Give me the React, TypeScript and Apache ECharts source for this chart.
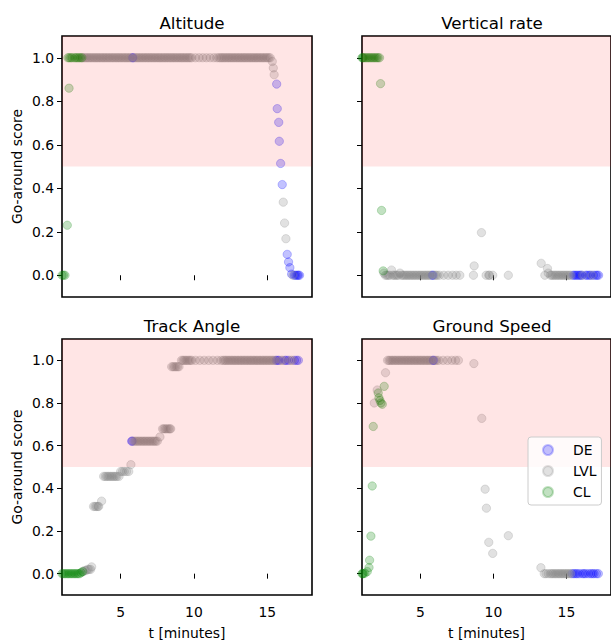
import React, { useEffect, useRef } from "react";
import * as echarts from "echarts";

// ---------- DATA (t [minutes], go-around score) ----------
const TITLES = ["Altitude", "Vertical rate", "Track Angle", "Ground Speed"];
const CLASSES = ["DE", "LVL", "CL"];
const X_TICKS = [5, 10, 15];
const Y_TICKS = [0, 0.2, 0.4, 0.6, 0.8, 1.0];

const ALT_DE = [
  [5.8, 1.0], [5.85, 1.0],
  [15.64, 0.879], [15.68, 0.766], [15.78, 0.703], [15.82, 0.616], [15.91, 0.514], [16.02, 0.417],
  [16.36, 0.096], [16.45, 0.061], [16.54, 0.035], [16.66, 0.005], [16.85, 0.0], [16.95, 0.0],
  [17.05, 0.0], [17.12, 0.0], [17.2, 0.0],
];
const ALT_LVL = [
  [2.4, 1.0], [2.5, 1.0], [2.6, 1.0], [2.7, 1.0], [2.8, 1.0], [2.9, 1.0], [3.0, 1.0], [3.1, 1.0],
  [3.2, 1.0], [3.3, 1.0], [3.4, 1.0], [3.5, 1.0], [3.6, 1.0], [3.7, 1.0], [3.8, 1.0], [3.9, 1.0],
  [4.0, 1.0], [4.1, 1.0], [4.2, 1.0], [4.3, 1.0], [4.4, 1.0], [4.5, 1.0], [4.6, 1.0], [4.7, 1.0],
  [4.8, 1.0], [4.9, 1.0], [5.0, 1.0], [5.1, 1.0], [5.2, 1.0], [5.3, 1.0], [5.4, 1.0], [5.5, 1.0],
  [5.6, 1.0], [5.7, 1.0], [5.95, 1.0], [6.05, 1.0], [6.15, 1.0], [6.25, 1.0], [6.35, 1.0],
  [6.45, 1.0], [6.55, 1.0], [6.65, 1.0], [6.75, 1.0], [6.85, 1.0], [6.95, 1.0], [7.05, 1.0],
  [7.15, 1.0], [7.25, 1.0], [7.35, 1.0], [7.45, 1.0], [7.55, 1.0], [7.65, 1.0], [7.75, 1.0],
  [7.85, 1.0], [7.95, 1.0], [8.05, 1.0], [8.15, 1.0], [8.25, 1.0], [8.35, 1.0], [8.45, 1.0],
  [8.55, 1.0], [8.65, 1.0], [8.75, 1.0], [8.85, 1.0], [8.95, 1.0], [9.05, 1.0], [9.15, 1.0],
  [9.25, 1.0], [9.35, 1.0], [9.45, 1.0], [9.55, 1.0], [9.65, 1.0], [9.75, 1.0], [9.85, 1.0],
  [10.1, 1.0], [10.35, 1.0], [10.6, 1.0], [10.85, 1.0], [11.1, 1.0], [11.35, 1.0], [11.55, 1.0],
  [11.7, 1.0], [11.8, 1.0], [11.9, 1.0], [12.0, 1.0], [12.1, 1.0], [12.2, 1.0], [12.3, 1.0],
  [12.4, 1.0], [12.5, 1.0], [12.6, 1.0], [12.7, 1.0], [12.8, 1.0], [12.9, 1.0], [13.0, 1.0],
  [13.1, 1.0], [13.2, 1.0], [13.3, 1.0], [13.4, 1.0], [13.5, 1.0], [13.6, 1.0], [13.7, 1.0],
  [13.8, 1.0], [13.9, 1.0], [14.0, 1.0], [14.1, 1.0], [14.2, 1.0], [14.3, 1.0], [14.4, 1.0],
  [14.5, 1.0], [14.6, 1.0], [14.7, 1.0], [14.8, 1.0], [14.9, 1.0], [15.0, 1.0], [15.1, 1.0],
  [15.2, 1.0],
  [15.34, 0.983], [15.41, 0.953], [15.47, 0.922],
  [16.09, 0.336], [16.18, 0.24], [16.27, 0.168], [16.75, 0.0],
];
const ALT_CL = [
  [1.0, 0.0], [1.1, 0.0], [1.2, 0.0], [1.36, 0.23], [1.48, 0.86],
  [1.4, 1.0], [1.5, 1.0], [1.6, 1.0], [1.7, 1.0], [1.85, 1.0], [1.95, 1.0], [2.05, 1.0],
  [2.15, 1.0], [2.25, 1.0], [2.35, 1.0],
];

const VR_DE = [
  [5.8, 0.0], [5.86, 0.0],
  [15.45, 0.0], [15.55, 0.0], [15.65, 0.0], [15.75, 0.0], [15.86, 0.0], [15.95, 0.0], [16.05, 0.0],
  [16.32, 0.0], [16.42, 0.0], [16.55, 0.0], [16.65, 0.0], [16.85, 0.0], [17.0, 0.0], [17.1, 0.0],
  [17.2, 0.0],
];
const VR_LVL = [
  [2.5, 0.01], [2.6, 0.0], [2.7, 0.0], [2.8, 0.0], [2.9, 0.0], [3.02, 0.024], [3.1, 0.0],
  [3.2, 0.0], [3.3, 0.0], [3.4, 0.0], [3.5, 0.0], [3.6, 0.01], [3.7, 0.0], [3.8, 0.0], [3.9, 0.0],
  [4.0, 0.0], [4.1, 0.0], [4.2, 0.0], [4.3, 0.0], [4.4, 0.0], [4.5, 0.0], [4.6, 0.0], [4.7, 0.0],
  [4.8, 0.0], [4.9, 0.0], [5.0, 0.0], [5.1, 0.0], [5.2, 0.0], [5.3, 0.0], [5.4, 0.0], [5.5, 0.0],
  [5.6, 0.0], [5.7, 0.0], [5.95, 0.0], [6.05, 0.0], [6.15, 0.0], [6.3, 0.0], [6.6, 0.0],
  [6.9, 0.0], [7.2, 0.0], [7.45, 0.0], [7.7, 0.0],
  [8.63, 0.0], [8.68, 0.043], [9.18, 0.196], [9.5, 0.0], [9.68, 0.0], [9.73, 0.0], [9.95, 0.0],
  [11.02, 0.0], [13.27, 0.055], [13.52, 0.0], [13.7, 0.031], [13.75, 0.01],
  [13.9, 0.0], [14.0, 0.0], [14.1, 0.0], [14.2, 0.0], [14.3, 0.0], [14.4, 0.0], [14.5, 0.0],
  [14.6, 0.0], [14.7, 0.0], [14.8, 0.0], [14.9, 0.0], [15.0, 0.0], [15.1, 0.0], [15.2, 0.0],
  [15.3, 0.0], [16.1, 0.0], [16.75, 0.0],
];
const VR_CL = [
  [1.0, 1.0], [1.05, 1.0], [1.1, 1.0], [1.2, 1.0], [1.3, 1.0], [1.4, 1.0], [1.5, 1.0], [1.6, 1.0],
  [1.7, 1.0], [1.8, 1.0], [1.9, 1.0], [2.0, 1.0], [2.1, 1.0], [2.2, 1.0],
  [2.27, 0.881], [2.34, 0.298], [2.45, 0.02],
];

const TA_DE = [
  [5.75, 0.621], [5.8, 0.621],
  [15.6, 1.0], [15.7, 1.0], [15.8, 1.0], [16.2, 1.0], [16.3, 1.0], [16.45, 1.0],
  [16.85, 1.0], [17.0, 1.0], [17.12, 1.0],
];
const TA_LVL = [
  [2.45, 0.01], [2.55, 0.015], [2.65, 0.015], [2.75, 0.02], [2.85, 0.02], [2.95, 0.02], [3.02, 0.032],
  [3.15, 0.315], [3.25, 0.315], [3.35, 0.315], [3.45, 0.315], [3.5, 0.315], [3.7, 0.34],
  [3.84, 0.456], [3.95, 0.456], [4.05, 0.456], [4.15, 0.456], [4.25, 0.456], [4.35, 0.456],
  [4.45, 0.456], [4.55, 0.456], [4.65, 0.456], [4.75, 0.456], [4.89, 0.456],
  [5.0, 0.479], [5.12, 0.479], [5.25, 0.479], [5.4, 0.479], [5.55, 0.479], [5.7, 0.511],
  [5.9, 0.621], [6.0, 0.621], [6.1, 0.621], [6.2, 0.621], [6.3, 0.621], [6.4, 0.621],
  [6.5, 0.621], [6.6, 0.621], [6.7, 0.621], [6.8, 0.621], [6.9, 0.621], [7.0, 0.621],
  [7.1, 0.621], [7.2, 0.621], [7.3, 0.621], [7.4, 0.621], [7.5, 0.621],
  [7.68, 0.641], [7.86, 0.679], [7.95, 0.679], [8.05, 0.679], [8.15, 0.679], [8.25, 0.679],
  [8.35, 0.679], [8.41, 0.679],
  [8.48, 0.97], [8.58, 0.97], [8.68, 0.97], [8.78, 0.97], [8.88, 0.97], [8.98, 0.97],
  [9.15, 1.0], [9.25, 1.0], [9.35, 1.0], [9.45, 1.0], [9.55, 1.0], [9.65, 1.0], [9.75, 1.0],
  [9.85, 1.0], [10.1, 1.0], [10.4, 1.0], [10.7, 1.0], [11.0, 1.0], [11.3, 1.0], [11.6, 1.0],
  [11.85, 1.0], [12.0, 1.0], [12.1, 1.0], [12.2, 1.0], [12.3, 1.0], [12.4, 1.0], [12.5, 1.0],
  [12.6, 1.0], [12.7, 1.0], [12.8, 1.0], [12.9, 1.0], [13.0, 1.0], [13.1, 1.0], [13.2, 1.0],
  [13.3, 1.0], [13.4, 1.0], [13.5, 1.0], [13.6, 1.0], [13.7, 1.0], [13.8, 1.0], [13.9, 1.0],
  [14.0, 1.0], [14.1, 1.0], [14.2, 1.0], [14.3, 1.0], [14.4, 1.0], [14.5, 1.0], [14.6, 1.0],
  [14.7, 1.0], [14.8, 1.0], [14.9, 1.0], [15.0, 1.0], [15.1, 1.0], [15.2, 1.0], [15.3, 1.0],
  [15.4, 1.0], [15.5, 1.0], [15.95, 1.0], [16.05, 1.0], [16.6, 1.0], [16.7, 1.0],
];
const TA_CL = [
  [1.0, 0.0], [1.1, 0.0], [1.2, 0.0], [1.3, 0.0], [1.4, 0.0], [1.5, 0.0], [1.6, 0.0], [1.7, 0.0],
  [1.8, 0.0], [1.9, 0.0], [2.0, 0.0], [2.1, 0.0], [2.2, 0.0], [2.3, 0.005], [2.4, 0.01],
];

const GS_DE = [
  [5.86, 1.0], [5.91, 1.0],
  [15.4, 0.0], [15.52, 0.0], [15.64, 0.0], [15.75, 0.0], [15.9, 0.0], [16.09, 0.0], [16.2, 0.0],
  [16.32, 0.0], [16.5, 0.0], [16.66, 0.0], [16.78, 0.0], [16.89, 0.0], [17.05, 0.0], [17.18, 0.0],
];
const GS_LVL = [
  [1.84, 0.8], [2.04, 0.861], [2.61, 0.942],
  [2.75, 1.0], [2.85, 1.0], [2.95, 1.0], [3.05, 1.0], [3.15, 1.0], [3.25, 1.0], [3.35, 1.0],
  [3.45, 1.0], [3.55, 1.0], [3.65, 1.0], [3.75, 1.0], [3.85, 1.0], [3.95, 1.0], [4.05, 1.0],
  [4.15, 1.0], [4.25, 1.0], [4.35, 1.0], [4.45, 1.0], [4.55, 1.0], [4.65, 1.0], [4.75, 1.0],
  [4.85, 1.0], [4.95, 1.0], [5.05, 1.0], [5.15, 1.0], [5.25, 1.0], [5.35, 1.0], [5.45, 1.0],
  [5.55, 1.0], [5.65, 1.0], [5.75, 1.0], [6.0, 1.0], [6.1, 1.0], [6.25, 1.0],
  [6.55, 1.0], [6.85, 1.0], [7.15, 1.0], [7.4, 1.0], [7.6, 1.0],
  [8.66, 0.985], [9.2, 0.728], [9.43, 0.396], [9.52, 0.307], [9.68, 0.147], [9.95, 0.095],
  [11.02, 0.178], [13.25, 0.028],
  [13.48, 0.0], [13.6, 0.0], [13.75, 0.0], [13.9, 0.0], [14.0, 0.0], [14.1, 0.0], [14.2, 0.0],
  [14.3, 0.0], [14.4, 0.0], [14.5, 0.0], [14.6, 0.0], [14.7, 0.0], [14.8, 0.0], [14.9, 0.0],
  [15.0, 0.0], [15.1, 0.0], [15.2, 0.0], [15.3, 0.0],
];
const GS_CL = [
  [1.0, 0.0], [1.05, 0.0], [1.09, 0.0], [1.2, 0.002], [1.36, 0.01], [1.48, 0.029], [1.52, 0.063],
  [1.61, 0.176], [1.7, 0.411], [1.77, 0.69], [2.11, 0.847], [2.16, 0.824], [2.23, 0.812],
  [2.3, 0.8], [2.39, 0.794], [2.52, 0.878],
];

const PANEL_DATA = [
  [ALT_DE, ALT_LVL, ALT_CL],
  [VR_DE, VR_LVL, VR_CL],
  [TA_DE, TA_LVL, TA_CL],
  [GS_DE, GS_LVL, GS_CL],
];

// ---------- STYLE / LAYOUT ----------
const COLORS = ["rgba(0,0,255,0.3)", "rgba(128,128,128,0.3)", "rgba(0,128,0,0.3)"];
const FONT = "DejaVu Sans";
const GRIDS = [
  { left: 62, top: 36, width: 250, height: 261 },
  { left: 362, top: 36, width: 250, height: 261 },
  { left: 62, top: 339, width: 250, height: 261 },
  { left: 362, top: 339, width: 250, height: 261 },
];

export default function App() {
  const ref = useRef<HTMLDivElement>(null);

  useEffect(() => {
    if (!ref.current) return;
    const chart = echarts.init(ref.current, null, { renderer: "svg" });

    const grid = GRIDS.map((g) => ({
      ...g,
      show: true,
      borderColor: "#000",
      borderWidth: 1.6,
      backgroundColor: "transparent",
      containLabel: false,
    }));

    const xAxis = GRIDS.map((_, i) => ({
      type: "value",
      gridIndex: i,
      min: 1.0,
      max: 18.05,
      axisLine: { show: false },
      splitLine: { show: false },
      axisTick: { show: true, length: 5, inside: false, customValues: X_TICKS, lineStyle: { color: "#000", width: 1 } },
      axisLabel: {
        show: i >= 2,
        customValues: X_TICKS,
        margin: 10,
        fontSize: 13.9,
        fontFamily: FONT,
        color: "#000",
      },
      name: i >= 2 ? "t [minutes]" : "",
      nameLocation: "middle",
      nameGap: 31,
      nameTextStyle: { fontSize: 13.9, fontFamily: FONT, color: "#000" },
    }));

    const yAxis = GRIDS.map((_, i) => ({
      type: "value",
      gridIndex: i,
      min: -0.1,
      max: 1.1,
      axisLine: { show: false },
      splitLine: { show: false },
      axisTick: { show: true, length: 5, inside: false, customValues: Y_TICKS, lineStyle: { color: "#000", width: 1 } },
      axisLabel: {
        show: i % 2 === 0,
        customValues: Y_TICKS,
        formatter: (v: number) => v.toFixed(1),
        margin: 8,
        fontSize: 13.9,
        fontFamily: FONT,
        color: "#000",
      },
      name: i % 2 === 0 ? "Go-around score" : "",
      nameLocation: "middle",
      nameGap: 38,
      nameTextStyle: { fontSize: 13.9, fontFamily: FONT, color: "#000" },
    }));

    const series: any[] = [];
    GRIDS.forEach((_, i) => {
      PANEL_DATA[i].forEach((pts, c) => {
        series.push({
          type: "scatter",
          name: CLASSES[c],
          xAxisIndex: i,
          yAxisIndex: i,
          data: pts,
          z: 2,
          symbol: "circle",
          symbolSize: 8.3,
          itemStyle: { color: COLORS[c], borderColor: COLORS[c], borderWidth: 1 },
          emphasis: { disabled: true },
        });
      });
      // red span (0.5 .. top) drawn over the points, as in the reference
      series.push({
        type: "scatter",
        name: "__band" + i,
        xAxisIndex: i,
        yAxisIndex: i,
        data: [],
        z: 5,
        silent: true,
        markArea: {
          silent: true,
          z: 5,
          itemStyle: { color: "rgba(255,0,0,0.1)" },
          data: [[{ yAxis: 0.5 }, { yAxis: 1.1 }]],
        },
      });
    });

    const title = TITLES.map((t, i) => ({
      text: t,
      left: GRIDS[i].left + GRIDS[i].width / 2,
      top: GRIDS[i].top - 27,
      textAlign: "center",
      textStyle: { fontSize: 16.7, fontWeight: "normal", fontFamily: FONT, color: "#000" },
    }));

    chart.setOption({
      animation: false,
      textStyle: { fontFamily: FONT },
      title,
      grid,
      xAxis,
      yAxis,
      legend: {
        data: CLASSES,
        orient: "vertical",
        left: 528,
        top: 437,
        z: 10,
        icon: "circle",
        itemWidth: 10,
        itemHeight: 10,
        itemGap: 7,
        padding: [6, 5, 6, 14],
        backgroundColor: "rgba(255,255,255,0.8)",
        borderColor: "#cccccc",
        borderWidth: 1,
        borderRadius: 3,
        selectedMode: false,
        textStyle: { fontSize: 13.9, fontFamily: FONT, color: "#000", padding: [0, 0, 0, 15], lineHeight: 14 },
      },
      series,
    });

    return () => chart.dispose();
  }, []);

  return (
    <div
      ref={ref}
      style={{ position: "fixed", left: 0, top: 0, width: 611, height: 641, background: "#fff" }}
    />
  );
}
